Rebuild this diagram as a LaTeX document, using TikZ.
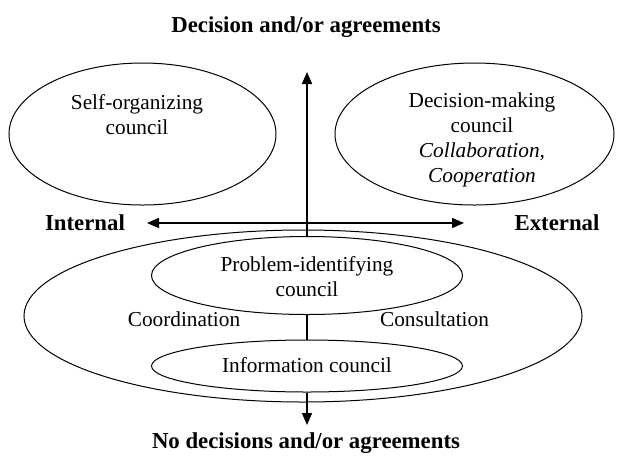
\documentclass[tikz,border=0pt]{standalone}
\usepackage{fontspec}
\setmainfont{Liberation Serif}[ItalicFont={Liberation Serif Italic},BoldFont={Liberation Serif Bold}]
\usetikzlibrary{shapes.geometric,arrows.meta}
\tikzset{
  oval/.style={draw,ellipse,line width=0.5pt,inner sep=0pt},
  txt/.style={font=\fontsize{10.65}{12.5}\selectfont,align=center,inner sep=0pt},
  btxt/.style={font=\fontsize{11.4}{13}\selectfont\bfseries,align=center,inner sep=0pt},
  axis/.style={line width=0.8pt,-{Triangle[length=6pt,width=5pt]}},
  axisline/.style={line width=0.8pt},
  axisboth/.style={line width=0.8pt,{Triangle[length=6pt,width=5pt]}-{Triangle[length=6pt,width=5pt]}}
}
\begin{document}
\begin{tikzpicture}[x=0.5pt,y=-0.5pt]
\useasboundingbox (0,0) rectangle (617,457);
% ellipses
\node[oval,minimum width=133.5pt,minimum height=71pt] (self) at (142.5,134) {};
\node[oval,minimum width=139.5pt,minimum height=71pt] (dec) at (474.5,134) {};
\node[oval,minimum width=279pt,minimum height=86pt] (big) at (303,316) {};
\node[oval,minimum width=155.5pt,minimum height=39pt] (prob) at (307,275.5) {};
\node[oval,minimum width=155.5pt,minimum height=26pt] (info) at (307,366) {};
% texts
\node[btxt] (title) at (306,27) {Decision and/or agreements};
\node[btxt] (bottom) at (306,443) {No decisions and/or agreements};
\node[btxt] (internal) at (85,223) {Internal};
\node[btxt] (external) at (557,223) {External};
\node[txt] (selft) at (137,114.5) {Self-organizing\\council};
\node[txt] (dect) at (482,139.5) {Decision-making\\council\\\textit{Collaboration,}\\\textit{Cooperation}};
\node[txt] (probt) at (307,276.5) {Problem-identifying\\council};
\node[txt] (infot) at (307,365) {Information council};
\node[txt] (coord) at (184,319) {Coordination};
\node[txt] (consult) at (434.5,319) {Consultation};
% axes
\coordinate (top) at (307,72);
\coordinate (bot) at (307,425);
\coordinate (left) at (147,223);
\coordinate (right) at (464,223);
\draw[axisboth] (left) -- (right);
\draw[axis] (prob.north) -- (top);
\draw[axisline] (prob.south) -- (info.north);
\draw[axis] (info.south) -- (bot);
\end{tikzpicture}
\end{document}
